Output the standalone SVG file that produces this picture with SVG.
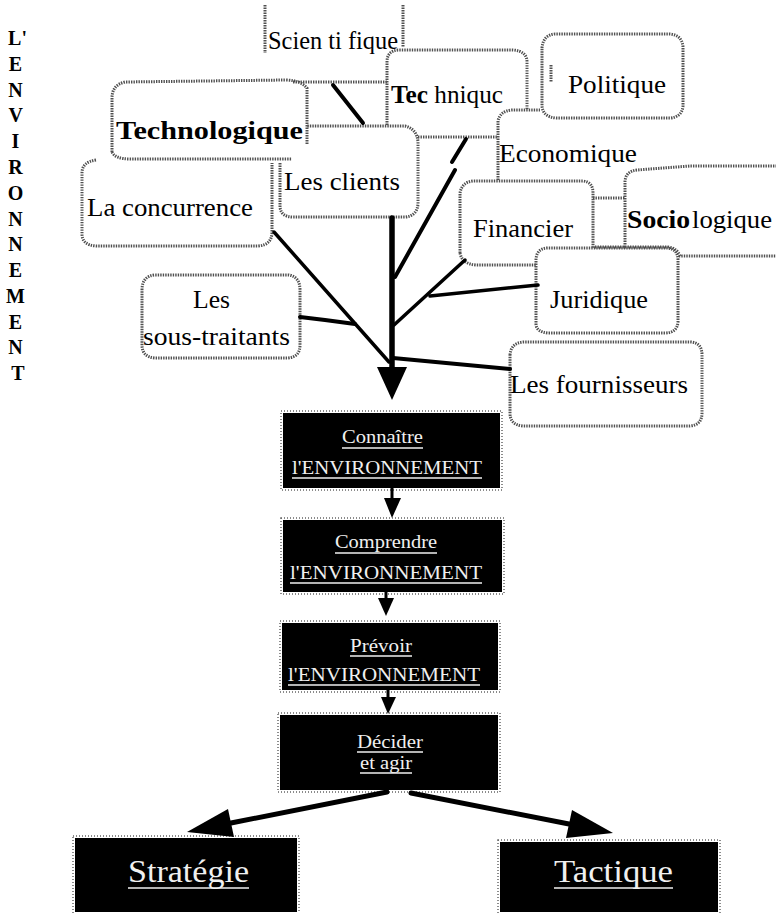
<svg xmlns="http://www.w3.org/2000/svg" width="776" height="913" viewBox="0 0 776 913">
<style>
.cl{fill:none;stroke:#505050;stroke-width:3;stroke-dasharray:1.4 1.1}
.lb{font-family:"Liberation Serif",serif;font-size:26px;fill:#000}
.bx{fill:#000}
.bo{fill:none;stroke:#666;stroke-width:1.5;stroke-dasharray:1 2}
.wt{font-family:"Liberation Serif",serif;font-size:19px;fill:#f0f0f0}
.big{font-size:32px}
.ul{stroke:#f0f0f0;stroke-width:1.6}
.ln{stroke:#000;fill:none;stroke-linecap:round}
.ah{fill:#000}
.vt{font-family:"Liberation Serif",serif;font-weight:bold;font-size:20px;text-anchor:middle;fill:#000}
</style>
<rect width="776" height="913" fill="#fff"/>

<!-- vertical title, one letter per line -->
<g id="title">
<text class="vt">
<tspan x="20" y="45">L'</tspan>
<tspan x="18" y="71">E</tspan>
<tspan x="18" y="97">N</tspan>
<tspan x="18" y="122">V</tspan>
<tspan x="18" y="148">I</tspan>
<tspan x="18" y="174">R</tspan>
<tspan x="18" y="200">O</tspan>
<tspan x="18" y="226">N</tspan>
<tspan x="18" y="251">N</tspan>
<tspan x="18" y="277">E</tspan>
<tspan x="18" y="303">M</tspan>
<tspan x="18" y="329">E</tspan>
<tspan x="18" y="354">N</tspan>
<tspan x="18" y="380">T</tspan>
</text>
</g>

<!-- environment clouds -->
<g id="scientifique">
<path class="cl" d="M265,5 V53 M403,5 V47"/>
<text class="lb" x="268" y="49" textLength="130" lengthAdjust="spacingAndGlyphs">Scien ti fique</text>
</g>

<g id="technique">
<path class="cl" d="M387,125 V62 Q387,51 398,50 H513 Q527,51 527,62 V110 M418,137 H497"/>
<text class="lb" x="391" y="103" textLength="112" lengthAdjust="spacingAndGlyphs"><tspan font-weight="bold">Tec</tspan> hniquc</text>
</g>

<g id="politique">
<path class="cl" d="M542,48 Q543,35 555,34 H670 Q682,35 683,47 V106 Q682,117 670,118 H556 Q543,117 542,106 Z M551,65 V82"/>
<text class="lb" x="568" y="93" textLength="98" lengthAdjust="spacingAndGlyphs">Politique</text>
</g>

<g id="technologique">
<path class="cl" d="M112,152 V98 Q112,85 125,82 L285,80 Q300,80 307,88 V145 M293,82 H387 M112,152 Q115,159 130,159 H292"/>
<text class="lb" x="116" y="139" font-weight="bold" textLength="187" lengthAdjust="spacingAndGlyphs">Technologique</text>
</g>

<g id="economique">
<path class="cl" d="M498,180 V121 Q500,111 512,110 H540"/>
<text class="lb" x="499" y="162" textLength="138" lengthAdjust="spacingAndGlyphs">Economique</text>
</g>

<g id="clients">
<path class="cl" d="M280,163 V207 Q281,217 293,217 H405 Q417,216 418,204 V142 Q417,129 405,126 H307"/>
<text class="lb" x="284" y="190" textLength="116" lengthAdjust="spacingAndGlyphs">Les clients</text>
</g>

<g id="concurrence">
<path class="cl" d="M96,160 Q82,162 82,173 V234 Q82,245 96,246 H258 Q272,245 272,232 V163"/>
<text class="lb" x="87" y="216" textLength="166" lengthAdjust="spacingAndGlyphs">La concurrence</text>
</g>

<g id="financier">
<path class="cl" d="M460,253 V193 Q462,182 473,181 H583 Q593,182 593,193 V248 M460,253 Q462,264 476,265 H536"/>
<text class="lb" x="473" y="237" textLength="100" lengthAdjust="spacingAndGlyphs">Financier</text>
</g>

<g id="sociologique">
<path class="cl" d="M593,198 H625 M595,247 H625 M625,247 V181 Q626,171 637,170 L690,166 H776 M625,247 H668 Q677,248 680,256 H776"/>
<text class="lb" x="627" y="228"><tspan font-weight="bold" textLength="63" lengthAdjust="spacingAndGlyphs">Socio</tspan><tspan x="692" textLength="80" lengthAdjust="spacingAndGlyphs">logique</tspan></text>
</g>

<g id="juridique">
<path class="cl" d="M536,325 V259 Q537,248 548,248 H667 Q678,249 678,260 V322 Q677,333 665,333 H548 Q537,332 536,325 Z"/>
<text class="lb" x="550" y="308" textLength="98" lengthAdjust="spacingAndGlyphs">Juridique</text>
</g>

<g id="sous-traitants">
<path class="cl" d="M142,290 Q142,276 155,275 H289 Q300,277 300,290 V345 Q300,357 288,358 H155 Q142,357 142,345 Z"/>
<text class="lb" x="193" y="308" textLength="37" lengthAdjust="spacingAndGlyphs">Les</text>
<text class="lb" x="143" y="345" textLength="147" lengthAdjust="spacingAndGlyphs">sous-traitants</text>
</g>

<g id="fournisseurs">
<path class="cl" d="M510,355 Q511,343 523,342 H691 Q702,343 702,355 V413 Q702,425 690,426 H523 Q510,425 510,413 Z"/>
<text class="lb" x="510" y="393" textLength="178" lengthAdjust="spacingAndGlyphs">Les fournisseurs</text>
</g>

<!-- process boxes -->
<g id="connaitre">
<rect class="bx" x="283" y="413" width="217" height="75"/>
<rect class="bo" x="281" y="411" width="221" height="79"/>
<text class="wt" x="342" y="443" textLength="81" lengthAdjust="spacingAndGlyphs">Connaître</text>
<line class="ul" x1="342" y1="448" x2="423" y2="448"/>
<text class="wt" x="292" y="474" textLength="190" lengthAdjust="spacingAndGlyphs">l'ENVIRONNEMENT</text>
<line class="ul" x1="292" y1="478" x2="482" y2="478"/>
</g>

<g id="comprendre">
<rect class="bx" x="283" y="520" width="219" height="72"/>
<rect class="bo" x="281" y="518" width="223" height="76"/>
<text class="wt" x="335" y="548" textLength="102" lengthAdjust="spacingAndGlyphs">Comprendre</text>
<line class="ul" x1="335" y1="553" x2="437" y2="553"/>
<text class="wt" x="290" y="579" textLength="192" lengthAdjust="spacingAndGlyphs">l'ENVIRONNEMENT</text>
<line class="ul" x1="290" y1="583" x2="482" y2="583"/>
</g>

<g id="prevoir">
<rect class="bx" x="282" y="623" width="216" height="67"/>
<rect class="bo" x="280" y="621" width="220" height="71"/>
<text class="wt" x="350" y="652" textLength="62" lengthAdjust="spacingAndGlyphs">Prévoir</text>
<line class="ul" x1="350" y1="656" x2="412" y2="656"/>
<text class="wt" x="288" y="681" textLength="192" lengthAdjust="spacingAndGlyphs">l'ENVIRONNEMENT</text>
<line class="ul" x1="288" y1="685" x2="480" y2="685"/>
</g>

<g id="decider">
<rect class="bx" x="280" y="715" width="218" height="75"/>
<rect class="bo" x="278" y="713" width="222" height="79"/>
<text class="wt" x="357" y="748" textLength="66" lengthAdjust="spacingAndGlyphs">Décider</text>
<line class="ul" x1="357" y1="752" x2="423" y2="752"/>
<text class="wt" x="360" y="769" textLength="52" lengthAdjust="spacingAndGlyphs">et agir</text>
<line class="ul" x1="360" y1="773" x2="412" y2="773"/>
</g>

<g id="strategie">
<rect class="bx" x="75" y="838" width="222" height="74"/>
<rect class="bo" x="73" y="836" width="226" height="78"/>
<text class="wt big" x="128" y="882" textLength="121" lengthAdjust="spacingAndGlyphs">Stratégie</text>
<line class="ul" x1="128" y1="888" x2="249" y2="888"/>
</g>

<g id="tactique">
<rect class="bx" x="500" y="842" width="218" height="70"/>
<rect class="bo" x="498" y="840" width="222" height="74"/>
<text class="wt big" x="554" y="882" textLength="119" lengthAdjust="spacingAndGlyphs">Tactique</text>
<line class="ul" x1="554" y1="888" x2="673" y2="888"/>
</g>

<!-- connectors -->
<g id="connectors">
<line class="ln" x1="333" y1="85" x2="363" y2="123" stroke-width="4"/>
<line class="ln" x1="466" y1="139" x2="452" y2="162" stroke-width="4"/>
<line class="ln" x1="455" y1="170" x2="395" y2="277" stroke-width="4"/>
<line class="ln" x1="392" y1="218" x2="392" y2="372" stroke-width="5.5"/>
<line class="ln" x1="274" y1="232" x2="389" y2="362" stroke-width="3.5"/>
<polyline class="ln" points="300,317 325,320 355,324" stroke-width="4"/>
<line class="ln" x1="465" y1="260" x2="394" y2="325" stroke-width="3.5"/>
<line class="ln" x1="538" y1="285" x2="430" y2="296" stroke-width="3.5"/>
<line class="ln" x1="393" y1="358" x2="510" y2="369" stroke-width="4"/>
<polygon class="ah" points="377,367 407,367 392,400"/>

<line class="ln" x1="392" y1="488" x2="392" y2="500" stroke-width="3"/>
<polygon class="ah" points="384,498 401,498 392,518"/>
<line class="ln" x1="386" y1="592" x2="386" y2="600" stroke-width="3"/>
<polygon class="ah" points="378,598 394,598 386,616"/>
<line class="ln" x1="388" y1="690" x2="388" y2="699" stroke-width="3"/>
<polygon class="ah" points="381,697 396,697 388,714"/>

<line class="ln" x1="387" y1="792" x2="231" y2="823" stroke-width="5"/>
<polygon class="ah" points="187,832 228,809 234,837"/>
<line class="ln" x1="411" y1="793" x2="569" y2="824" stroke-width="5"/>
<polygon class="ah" points="613,833 572,810 566,838"/>
</g>
</svg>
